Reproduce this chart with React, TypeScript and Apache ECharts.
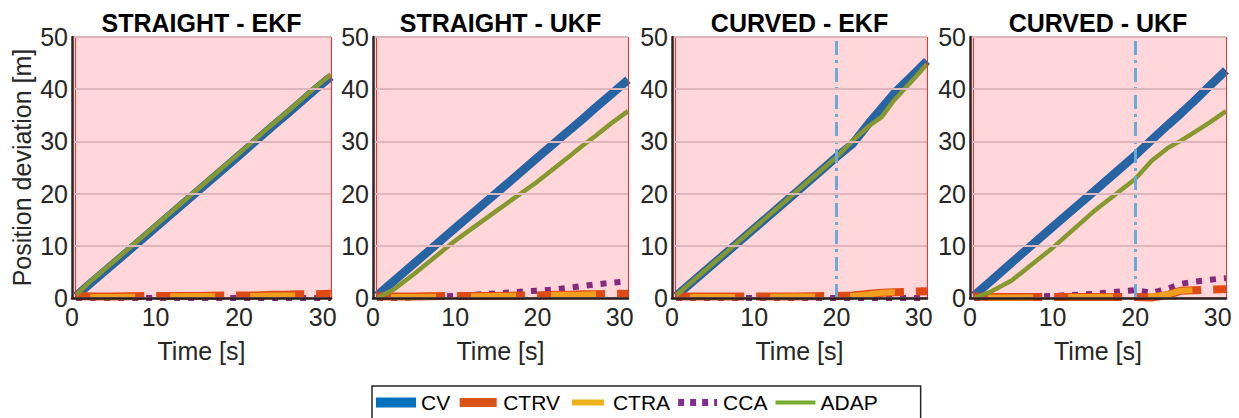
import React, { useEffect, useRef } from "react";
import * as echarts from "echarts";

// ---------- data ----------
const TIME = [0.5, 2.5, 5, 10, 15, 20, 22, 24, 25.5, 27, 29, 31];
const PANEL_TITLES = ["STRAIGHT - EKF", "STRAIGHT - UKF", "CURVED - EKF", "CURVED - UKF"];
const MODELS = ["CV", "CTRV", "CTRA", "CCA", "ADAP"];
const X_MAX = 31;
const Y_MAX = 50;
const MANEUVER_TIME = 20;
const MANEUVER_PANELS = [2, 3];

// STRAIGHT - EKF
const SE_CV = [0.4, 3.2, 6.6, 13.5, 20.4, 27.3, 30.1, 32.9, 34.9, 37.0, 39.8, 42.4];
const SE_CTRV = [0.4, 0.3, 0.3, 0.4, 0.4, 0.5, 0.5, 0.6, 0.6, 0.7, 0.7, 0.8];
const SE_CTRA = [0.1, 0.2, 0.2, 0.3, 0.4, 0.4, 0.4, 0.5, 0.5, 0.5, 0.6, 0.6];
const SE_CCA = [0.0, 0.0, 0.0, 0.0, 0.0, 0.0, 0.0, 0.0, 0.0, 0.0, 0.0, 0.0];
const SE_ADAP = [0.6, 3.6, 7.0, 13.9, 20.8, 27.7, 30.5, 33.3, 35.3, 37.4, 40.2, 42.8];

// STRAIGHT - UKF
const SU_CV = [0.5, 3.2, 6.6, 13.4, 20.1, 26.9, 29.6, 32.3, 34.3, 36.4, 39.1, 41.8];
const SU_CTRV = [0.3, 0.3, 0.3, 0.4, 0.4, 0.5, 0.6, 0.6, 0.7, 0.7, 0.8, 0.8];
const SU_CTRA = [0.1, 0.2, 0.2, 0.3, 0.4, 0.5, 0.6, 0.6, 0.6, 0.7, 0.7, 0.7];
const SU_CCA = [0.0, 0.0, 0.1, 0.4, 0.9, 1.4, 1.6, 2.0, 2.3, 2.6, 2.9, 3.2];
const SU_ADAP = [0.0, 1.6, 4.6, 11.0, 16.7, 22.3, 24.8, 27.3, 29.2, 31.0, 33.5, 35.8];

// CURVED - EKF
const CE_CV = [0.4, 3.1, 6.5, 13.3, 20.1, 27.0, 29.6, 33.6, 36.4, 39.2, 42.3, 45.4];
const CE_CTRV = [0.3, 0.3, 0.3, 0.3, 0.3, 0.4, 0.5, 0.8, 1.0, 1.1, 1.2, 1.3];
const CE_CTRA = [0.1, 0.2, 0.2, 0.2, 0.3, 0.3, 0.4, 0.7, 1.0, 1.1, 1.1, 1.2];
const CE_CCA = [0.0, 0.0, 0.0, 0.0, 0.0, 0.0, 0.0, 0.0, 0.0, 0.0, 0.0, 0.0];
const CE_ADAP = [0.5, 3.2, 6.6, 13.4, 20.2, 27.0, 30.2, 33.0, 34.7, 37.9, 41.3, 44.8];

// CURVED - UKF
const CU_CV = [0.5, 3.2, 6.7, 13.6, 20.4, 27.3, 30.3, 33.2, 35.3, 37.5, 40.6, 43.6];
const CU_CTRV = [0.3, 0.2, 0.2, 0.2, 0.2, 0.2, 0.1, 0.6, 1.4, 1.5, 1.6, 1.7];
const CU_CTRA = [0.1, 0.1, 0.1, 0.2, 0.2, 0.3, 0.3, 0.7, 1.4, 1.5, 1.5, 1.6];
const CU_CCA = [0.0, 0.0, 0.1, 0.4, 0.8, 1.5, 1.0, 1.8, 2.7, 3.1, 3.5, 3.8];
const CU_ADAP = [0.0, 1.2, 3.3, 9.6, 16.6, 22.8, 26.3, 28.8, 30.1, 31.6, 33.6, 35.8];

const PANEL_DATA = [
  [SE_CV, SE_CTRV, SE_CTRA, SE_CCA, SE_ADAP],
  [SU_CV, SU_CTRV, SU_CTRA, SU_CCA, SU_ADAP],
  [CE_CV, CE_CTRV, CE_CTRA, CE_CCA, CE_ADAP],
  [CU_CV, CU_CTRV, CU_CTRA, CU_CCA, CU_ADAP],
];

// ---------- styling ----------
const FONT = "Arial, 'Liberation Sans', Helvetica, sans-serif";
const GRID_LEFT = [72, 373, 672, 970];
const GRID_WIDTH = [259, 255, 255, 256];
const GRID_TOP = 37;
const GRID_HEIGHT = 261;
const AXIS_FONT = 25;

const STYLE: Record<string, any> = {
  CV: { plot: "#2764a4", legend: "#0072BD", width: 8.5, type: "solid", offset: 0, opacity: 1, clip: false, z: 2 },
  CTRV: { plot: "#DF4A14", legend: "#D95319", width: 8, type: [68, 12], offset: 0, opacity: 1, clip: false, z: 3 },
  CTRA: { plot: "#F2AE1E", legend: "#EDB120", width: 6, type: [45, 35], offset: 66, opacity: 0.85, clip: false, z: 3 },
  CCA: { plot: "#87287f", legend: "#7E2F8E", width: 6, type: [6, 8], offset: 0, opacity: 1, clip: true, z: 1 },
  ADAP: { plot: "#86992e", legend: "#77AC30", width: 4.5, type: "solid", offset: 0, opacity: 1, clip: false, z: 4 },
};

const SPECK = "M0,0h0.01v0.01h-0.01zM39.99,10.99h0.01v0.01h-0.01z";
const ICONS: Record<string, string> = {
  CV: "path://" + SPECK + "M0,0.5h40v10h-40z",
  CTRV: "path://" + SPECK + "M1.5,1h37v9h-37z",
  CTRA: "path://" + SPECK + "M4,2.5h32v6h-32z",
  CCA: "path://" + SPECK + "M0,2h6v7h-6zM12,2h6v7h-6zM24,2h6v7h-6zM36,2h3v7h-3z",
  ADAP: "path://" + SPECK + "M0,3.5h40v4h-40z",
};

function buildOption() {
  const grids = GRID_LEFT.map((left, i) => ({
    left,
    top: GRID_TOP,
    width: GRID_WIDTH[i],
    height: GRID_HEIGHT,
    show: true,
    backgroundColor: "#ffd7da",
    borderWidth: 0,
  }));

  const xAxes = GRID_LEFT.map((_, i) => ({
    type: "value",
    gridIndex: i,
    min: 0,
    max: X_MAX,
    interval: 10,
    z: 10,
    name: "Time [s]",
    nameLocation: "middle",
    nameGap: 40,
    nameTextStyle: { fontFamily: FONT, fontSize: AXIS_FONT, color: "#262626" },
    axisLine: { show: true, onZero: false, lineStyle: { color: "#2a1c1c", width: 2.5 } },
    axisTick: { show: false },
    splitLine: { show: false },
    axisLabel: {
      fontFamily: FONT,
      fontSize: AXIS_FONT,
      color: "#262626",
      margin: 6,
      formatter: (v: number) => (v % 10 === 0 ? String(v) : ""),
    },
  }));

  const yAxes = GRID_LEFT.map((_, i) => ({
    type: "value",
    gridIndex: i,
    min: 0,
    max: Y_MAX,
    interval: 10,
    z: 10,
    name: i === 0 ? "Position deviation [m]" : "",
    nameLocation: "middle",
    nameGap: 38,
    nameTextStyle: { fontFamily: FONT, fontSize: AXIS_FONT, color: "#262626" },
    axisLine: { show: true, lineStyle: { color: "#262626", width: 2.5 } },
    axisTick: { show: false },
    splitLine: { show: true, lineStyle: { color: "#dcb6ba", width: 2 } },
    axisLabel: { fontFamily: FONT, fontSize: AXIS_FONT, color: "#262626", margin: 4 },
  }));

  const series: any[] = [];
  PANEL_DATA.forEach((panel, p) => {
    panel.forEach((vals, m) => {
      const name = MODELS[m];
      const st = STYLE[name];
      const s: any = {
        type: "line",
        name,
        xAxisIndex: p,
        yAxisIndex: p,
        data: TIME.map((t, k) => [t, vals[k]]),
        showSymbol: false,
        symbol: "none",
        clip: st.clip,
        color: st.legend,
        lineStyle: {
          color: st.plot,
          width: st.width,
          type: st.type,
          dashOffset: st.offset,
          cap: "butt",
          opacity: st.opacity,
        },
        z: st.z,
      };
      if (m === 0) {
        s.markLine = {
          silent: true,
          symbol: "none",
          label: { show: false },
          lineStyle: { color: "#ff2a2a", width: 1, type: "solid" },
          data: [{ xAxis: 0.4 }, { xAxis: X_MAX }],
        };
      }
      if (m === MODELS.length - 1 && MANEUVER_PANELS.includes(p)) {
        s.markLine = {
          silent: true,
          symbol: "none",
          label: { show: false },
          lineStyle: { color: "#6aaad8", width: 3, type: [14, 5, 3, 5] },
          data: [{ xAxis: MANEUVER_TIME }],
        };
      }
      series.push(s);
    });
  });

  const titles = PANEL_TITLES.map((text, i) => ({
    type: "text",
    x: GRID_LEFT[i] + GRID_WIDTH[i] / 2,
    y: 23,
    style: {
      text,
      fill: "#000",
      font: `bold 25px ${FONT}`,
      textAlign: "center",
      textVerticalAlign: "middle",
    },
  }));

  return {
    animation: false,
    backgroundColor: "#ffffff",
    grid: grids,
    xAxis: xAxes,
    yAxis: yAxes,
    series,
    graphic: titles,
    legend: {
      left: 372,
      top: 386,
      orient: "horizontal",
      padding: [6, 43, 20, 4],
      itemGap: 8,
      itemWidth: 40,
      itemHeight: 11,
      borderColor: "#262626",
      borderWidth: 1.5,
      backgroundColor: "#ffffff",
      itemStyle: { borderWidth: 0 },
      textStyle: { fontFamily: FONT, fontSize: 21, color: "#000" },
      selectedMode: false,
      data: MODELS.map((name) => ({
        name,
        icon: ICONS[name],
        itemStyle: { color: STYLE[name].legend, borderWidth: 0 },
      })),
    },
  };
}

export default function App() {
  const ref = useRef<HTMLDivElement>(null);
  useEffect(() => {
    if (!ref.current) return;
    const chart = echarts.init(ref.current, undefined, { renderer: "svg" });
    chart.setOption(buildOption() as any);
    return () => chart.dispose();
  }, []);
  return (
    <div
      ref={ref}
      style={{ position: "fixed", left: 0, top: 0, width: 1239, height: 418, background: "#fff" }}
    />
  );
}
